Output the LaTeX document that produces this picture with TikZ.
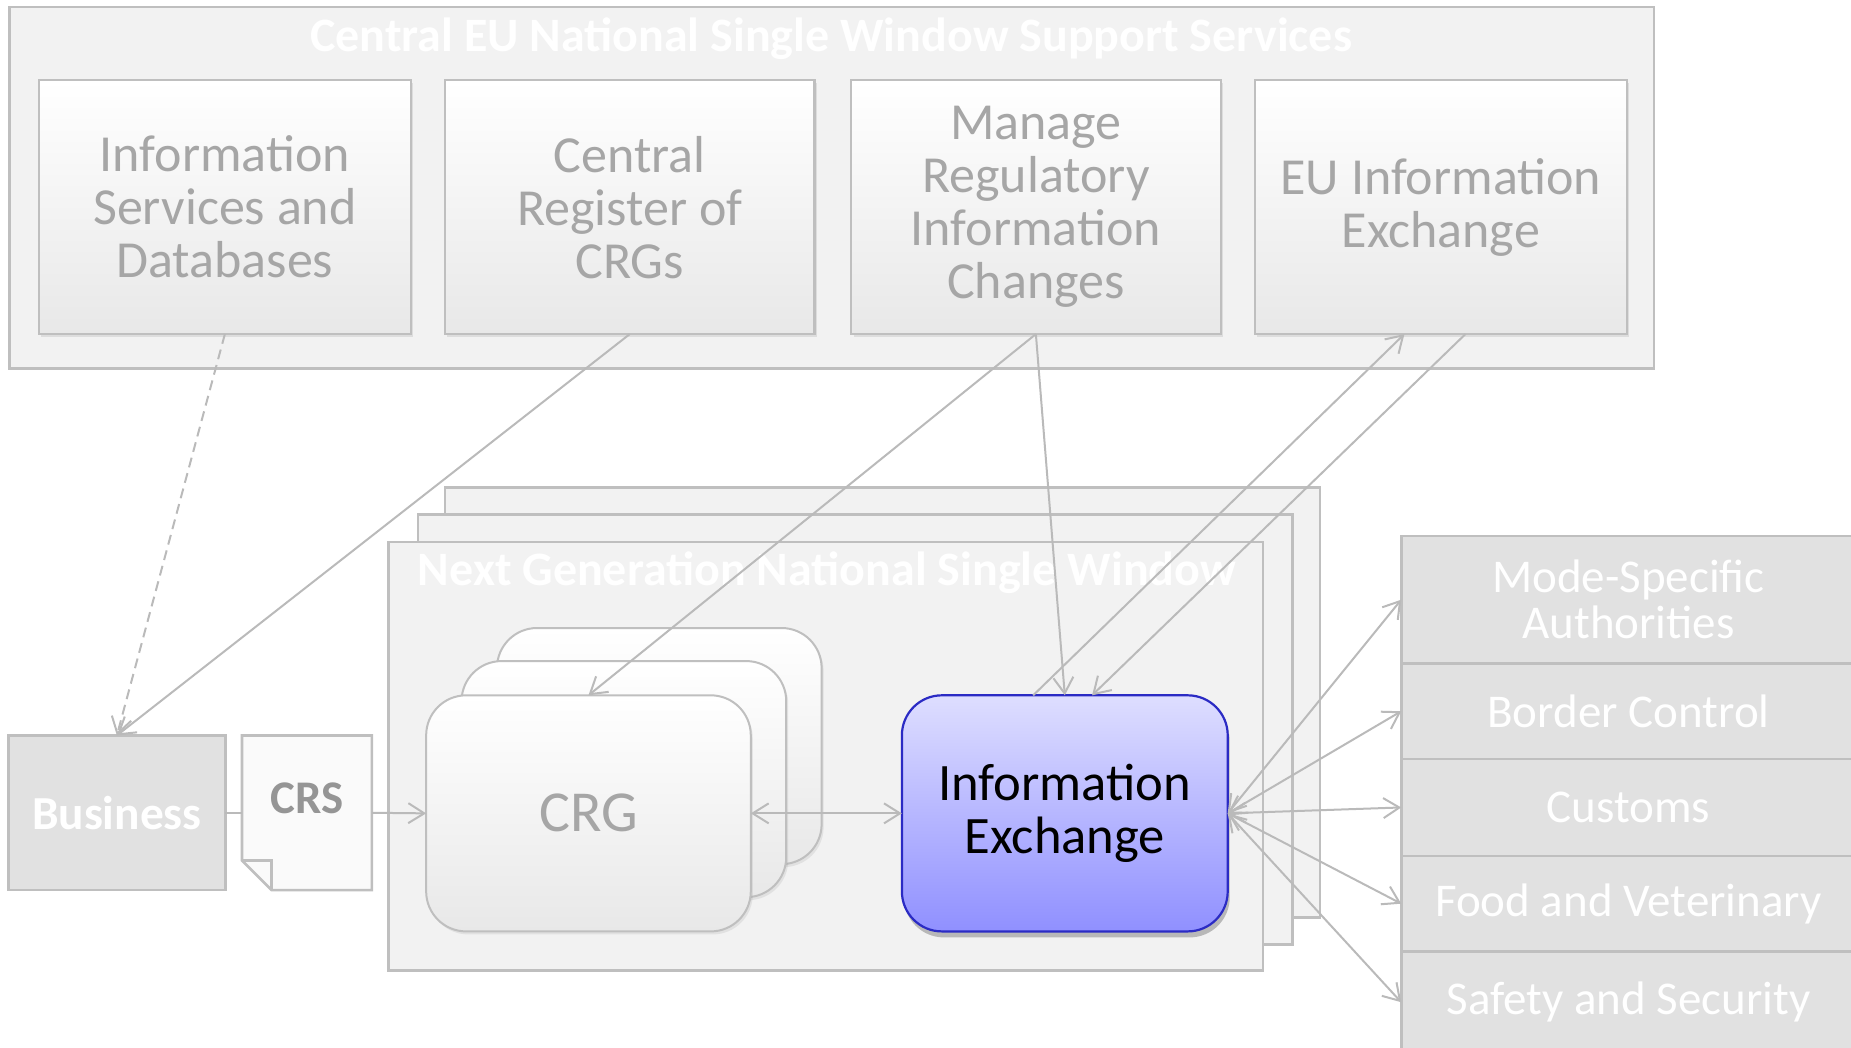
\documentclass[tikz,border=0pt]{standalone}
\usepackage{fontspec}
\setmainfont{Carlito}
\usetikzlibrary{arrows.meta,shadows,calc}
\def\pxl{0.59025pt}
\definecolor{edge}{HTML}{BFBFBF}
\definecolor{panel}{HTML}{F2F2F2}
\definecolor{txtgray}{HTML}{A6A6A6}
\definecolor{linec}{HTML}{BABABA}
\definecolor{darkcell}{HTML}{E1E1E1}
\definecolor{ietop}{HTML}{DEDEFF}
\definecolor{iebot}{HTML}{9090FF}
\definecolor{ieedge}{HTML}{2B2BC4}
\tikzset{
  sz/.style 2 args={minimum width=#1*\pxl, minimum height=#2*\pxl, inner sep=0pt, outer sep=0pt},
  panelbox/.style={draw=edge, line width=1.3pt, fill=panel},
  paneltitle/.style={text=white, font=\bfseries\fontsize{24}{26}\selectfont},
  svc/.style={draw=edge, line width=1.1pt, top color=white, bottom color=black!9, text=txtgray,
    align=center, font=\fontsize{26}{26.5}\selectfont,
    drop shadow={shadow xshift=1.2pt, shadow yshift=-1.5pt, opacity=0.18}},
  crgbox/.style={draw=edge, line width=1pt, rounded corners=20pt, top color=white, bottom color=black!9,
    text=txtgray, font=\fontsize{29}{30}\selectfont,
    drop shadow={shadow xshift=1pt, shadow yshift=-1.5pt, opacity=0.15}},
  iebox/.style={draw=ieedge, line width=1.1pt, rounded corners=20pt, top color=ietop, bottom color=iebot,
    text=black, align=center, font=\fontsize{26.3}{26.5}\selectfont,
    drop shadow={shadow xshift=1pt, shadow yshift=-3pt, opacity=0.5}},
  bizbox/.style={draw=edge, line width=1.3pt, fill=darkcell, text=white, font=\bfseries\fontsize{23.7}{24}\selectfont},
  docline/.style={draw=edge, line width=1.3pt},
  crstext/.style={text=txtgray!90!black, font=\bfseries\fontsize{23.4}{24}\selectfont},
  cell/.style={draw=edge, line width=1.3pt, fill=darkcell, text=white, align=center, font=\fontsize{23.5}{23}\selectfont},
  conn/.style={draw=linec, line width=1pt},
  arr/.style={conn, -{Straight Barb[length=8pt,width=10pt]}},
  darr/.style={conn, {Straight Barb[length=8pt,width=10pt]}-{Straight Barb[length=8pt,width=10pt]}},
}
\begin{document}
\begin{tikzpicture}[x=\pxl,y=-\pxl]
\useasboundingbox (0,0) rectangle (1568,887);

% central services panel
\node[panelbox, sz={1393}{306}] (central) at (704.5,159) {};
\node[paneltitle] (ctitle) at (704,33) {Central EU National Single Window Support Services};
\node[svc, sz={315}{215}] (isd) at (190.5,175.5) {Information\\Services and\\Databases};
\node[svc, sz={313}{215}] (crgreg) at (533.5,175.5) {Central\\Register of\\CRGs};
\node[svc, sz={313}{215}] (mric) at (877.5,175.5) {Manage\\Regulatory\\Information\\Changes};
\node[svc, sz={315}{215}] (euie) at (1220.5,175.5) {EU Information\\Exchange};

% next generation NSW stack
\node[panelbox, sz={741}{364}] (ng3) at (747.5,595) {};
\node[panelbox, sz={741}{364}] (ng2) at (724.5,618) {};
\node[panelbox, sz={741}{363}] (ng1) at (699.5,640.5) {};
\node[paneltitle] (ngtitle) at (700.5,485) {Next Generation National Single Window};

\node[crgbox, sz={275}{200}] (crg3) at (558.5,632) {};
\node[crgbox, sz={275}{200}] (crg2) at (528.5,660) {};
\node[crgbox, sz={275}{200}] (crg1) at (498.5,689) {CRG};

\node[iebox, sz={276}{200}] (ie) at (902,689) {Information\\Exchange};

% business and CRS document
\node[bizbox, sz={184}{131}] (biz) at (99,688.5) {Business};
\node[sz={110}{131}] (crs) at (260,688.5) {};
\draw[docline, fill=white!98!black] (crs.north west) -- (crs.north east) -- (crs.south east)
  -- ($(crs.south west)+(25,0)$) -- ($(crs.south west)+(0,-25)$) -- cycle;
\draw[docline] ($(crs.south west)+(0,-25)$) -- ($(crs.south west)+(25,-25)$) -- ($(crs.south west)+(25,0)$);
\node[crstext] (crslabel) at (260,676) {CRS};

% authorities column
\node[cell, sz={385}{108}] (msa) at (1379.5,508) {Mode-Specific\\Authorities};
\node[cell, sz={385}{81}] (bc) at (1379.5,602.5) {Border Control};
\node[cell, sz={385}{82}] (cus) at (1379.5,684) {Customs};
\node[cell, sz={385}{81}] (fv) at (1379.5,765.5) {Food and Veterinary};
\node[cell, sz={385}{86}] (ss) at (1379.5,849) {Safety and Security};

% connectors
\draw[arr, dash pattern=on 5pt off 3pt] (isd.south) -- (biz.north);
\draw[arr] (crgreg.south) -- (biz.north);
\draw[arr] (mric.south) -- (crg1.north);
\draw[arr] (mric.south) -- (ie.north);
\draw[arr] (ie.105) -- (euie.254);
\draw[arr] (euie.281) -- (ie.77);
\draw[conn] (biz.east) -- (crs.west);
\draw[arr] (crs.east) -- (crg1.west);
\draw[darr] (crg1.east) -- (ie.west);
\foreach \t in {msa,bc,cus,fv,ss} \draw[darr] (ie.east) -- (\t.west);
\end{tikzpicture}
\end{document}
